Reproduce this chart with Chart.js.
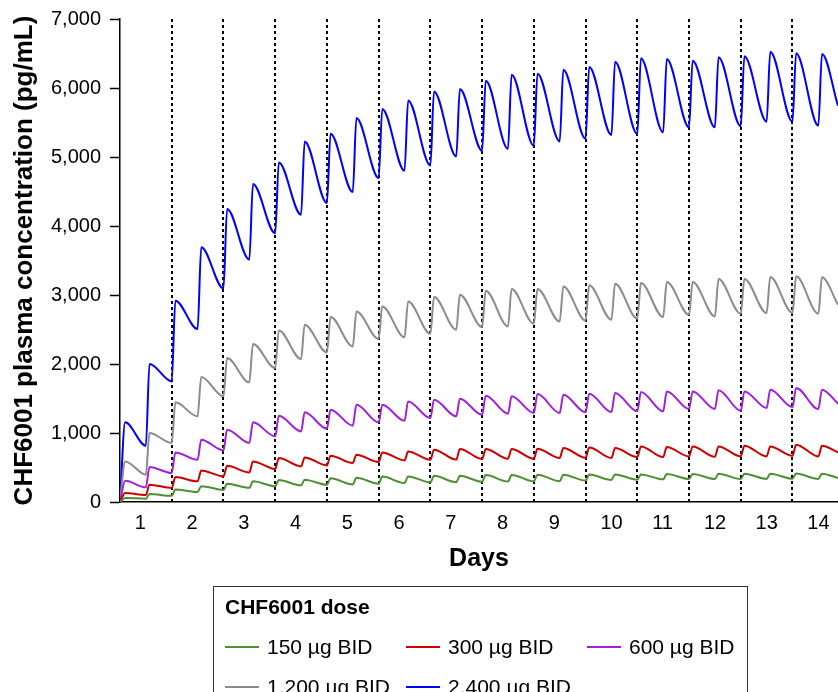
<!DOCTYPE html>
<html>
<head>
<meta charset="utf-8">
<script src="https://cdn.jsdelivr.net/npm/chart.js@4.4.1/dist/chart.umd.min.js"></script>
<style>
  html, body { margin: 0; padding: 0; background: #fff; }
  #wrap { position: relative; width: 838px; height: 692px; overflow: hidden; }
  #wrap canvas { position: absolute; left: 0; top: 0; }
  #legend {
    position: absolute; left: 213px; top: 586px; width: 535px; height: 140px;
    box-sizing: border-box; border: 1.5px solid #333; padding: 8px 0 0 11px;
    font-family: "Liberation Sans", Arial, sans-serif; color: #000;
  }
  #legend .title { font-weight: bold; font-size: 21px; line-height: 24px; }
  #legend .row { display: flex; height: 40px; align-items: center; }
  #legend .row.first { margin-top: 7.5px; }
  #legend .item { display: flex; align-items: center; width: 181px; flex: none; font-size: 21px; white-space: nowrap; }
  #legend .swatch { width: 34px; height: 2px; margin-right: 8px; flex: none; }
</style>
</head>
<body>
<div id="wrap">
  <canvas id="myChart" width="838" height="692"></canvas>
  <div id="legend"></div>
</div>
<script>
// dosing schedule (days) - trough read at each dose, peak shortly after
const doseDays = [0, 0.5, 1, 1.5, 2, 2.5, 3, 3.5, 4, 4.5, 5, 5.5, 6, 6.5,
                  7, 7.5, 8, 8.5, 9, 9.5, 10, 10.5, 11, 11.5, 12, 12.5, 13, 13.5];
const peakDays = [0.1, 0.57, 1.07, 1.57, 2.07, 2.57, 3.07, 3.57, 4.07, 4.57, 5.07, 5.57, 6.07, 6.57,
                  7.07, 7.57, 8.07, 8.57, 9.07, 9.57, 10.07, 10.57, 11.07, 11.57, 12.07, 12.57, 13.07, 13.57];
const endDay = 13.88;

const doseLabels = ['150 µg BID', '300 µg BID', '600 µg BID', '1,200 µg BID', '2,400 µg BID'];
const doseColors = ['#4f8f34', '#cc0000', '#a020e0', '#8c8c8c', '#0000ff'];

// pg/mL
const troughs150 = [0, 48, 90, 145, 175, 205, 228, 241, 251, 255, 265, 275, 284, 286, 294, 296, 299, 301, 310, 320, 323, 328, 333, 333, 333, 335, 338, 335];
const peaks150 = [58, 116, 180, 230, 265, 300, 318, 323, 345, 350, 368, 371, 380, 381, 390, 391, 396, 396, 398, 400, 400, 405, 405, 410, 410, 410, 412, 410];
const end150 = 348;

const troughs300 = [0, 101, 203, 299, 371, 429, 478, 516, 530, 565, 580, 603, 613, 613, 623, 628, 628, 638, 640, 638, 652, 652, 661, 655, 661, 661, 671, 661];
const peaks300 = [130, 251, 362, 458, 526, 588, 638, 645, 671, 686, 719, 733, 758, 768, 768, 768, 773, 782, 790, 782, 806, 796, 806, 806, 816, 806, 830, 816];
const end300 = 719;

const troughs600 = [0, 212, 420, 613, 748, 855, 951, 1023, 1062, 1106, 1154, 1178, 1217, 1241, 1265, 1280, 1290, 1290, 1300, 1304, 1314, 1314, 1348, 1348, 1323, 1362, 1377, 1348];
const peaks600 = [309, 507, 719, 903, 1048, 1154, 1251, 1299, 1338, 1410, 1410, 1458, 1483, 1497, 1541, 1531, 1565, 1555, 1570, 1580, 1594, 1603, 1603, 1618, 1603, 1628, 1652, 1628];
const end600 = 1425;

const troughs1200 = [0, 396, 855, 1241, 1531, 1734, 1942, 2072, 2168, 2255, 2362, 2386, 2439, 2497, 2536, 2545, 2584, 2617, 2630, 2642, 2657, 2681, 2714, 2690, 2729, 2739, 2739, 2729];
const peaks1200 = [588, 1000, 1444, 1812, 2087, 2290, 2487, 2570, 2681, 2762, 2835, 2907, 2971, 3004, 3062, 3087, 3087, 3125, 3140, 3164, 3174, 3188, 3188, 3232, 3232, 3261, 3270, 3256];
const end1200 = 2859;

const troughs2400 = [0, 816, 1748, 2507, 3095, 3512, 3894, 4164, 4333, 4493, 4696, 4801, 4878, 5009, 5091, 5116, 5164, 5226, 5265, 5319, 5333, 5357, 5430, 5430, 5445, 5512, 5512, 5454];
const peaks2400 = [1154, 2000, 2917, 3691, 4246, 4609, 4920, 5226, 5338, 5565, 5696, 5820, 5951, 5986, 6106, 6193, 6207, 6265, 6304, 6381, 6430, 6420, 6396, 6444, 6459, 6526, 6502, 6493];
const end2400 = 5743;

// x ticks: labels at mid-day, dotted dividers at day boundaries
const dayTicks = [0.5, 1, 1.5, 2, 2.5, 3, 3.5, 4, 4.5, 5, 5.5, 6, 6.5, 7, 7.5, 8, 8.5, 9, 9.5,
                  10, 10.5, 11, 11.5, 12, 12.5, 13, 13.5];
const dayLabels = ['1', '2', '3', '4', '5', '6', '7', '8', '9', '10', '11', '12', '13', '14'];
const yTicks = [0, 1000, 2000, 3000, 4000, 5000, 6000, 7000];

const legendTitle = 'CHF6001 dose';

function buildSeries(troughs, peaks, endValue) {
    const pts = [];
    doseDays.forEach((d, i) => {
        pts.push({ x: d, y: troughs[i] });
        pts.push({ x: peakDays[i], y: peaks[i] });
    });
    pts.push({ x: endDay, y: endValue });
    return pts;
}

const seriesData = [
    buildSeries(troughs150, peaks150, end150),
    buildSeries(troughs300, peaks300, end300),
    buildSeries(troughs600, peaks600, end600),
    buildSeries(troughs1200, peaks1200, end1200),
    buildSeries(troughs2400, peaks2400, end2400)
];

// legend is drawn as html so the columns line up like the original
const htmlLegend = {
    id: 'htmlLegend',
    afterUpdate(chart) {
        const box = document.getElementById('legend');
        box.innerHTML = '';
        const title = document.createElement('div');
        title.className = 'title';
        title.textContent = legendTitle;
        box.appendChild(title);
        let row = null;
        chart.data.datasets.forEach((ds, i) => {
            if (i % 3 === 0) {
                row = document.createElement('div');
                row.className = i === 0 ? 'row first' : 'row';
                box.appendChild(row);
            }
            const item = document.createElement('div');
            item.className = 'item';
            const sw = document.createElement('span');
            sw.className = 'swatch';
            sw.style.background = ds.borderColor;
            const txt = document.createElement('span');
            txt.textContent = ds.label;
            item.appendChild(sw);
            item.appendChild(txt);
            row.appendChild(item);
        });
    }
};

Chart.defaults.font.family = '"Liberation Sans", Arial, sans-serif';
Chart.defaults.color = '#000';

const ctx = document.getElementById('myChart').getContext('2d');
const myChart = new Chart(ctx, {
    type: 'line',
    data: {
        datasets: doseLabels.map((label, i) => ({
            label: label,
            data: seriesData[i],
            borderColor: doseColors[i],
            backgroundColor: doseColors[i],
            borderWidth: 2,
            pointRadius: 0,
            cubicInterpolationMode: 'monotone',
            fill: false
        }))
    },
    options: {
        responsive: false,
        animation: false,
        layout: { padding: { top: 19, right: 0, bottom: 110, left: 0 } },
        plugins: {
            legend: { display: false },
            tooltip: { enabled: false }
        },
        scales: {
            x: {
                type: 'linear',
                min: 0,
                max: endDay,
                afterBuildTicks: axis => { axis.ticks = dayTicks.map(v => ({ value: v })); },
                afterFit: axis => { axis.paddingLeft = 0; axis.paddingRight = 0; axis.height = 80; },
                ticks: {
                    autoSkip: false,
                    maxRotation: 0,
                    align: 'start',
                    labelOffset: -11,
                    padding: 9,
                    font: { size: 20 },
                    callback: value => Number.isInteger(value) ? '' : dayLabels[Math.floor(value)]
                },
                grid: {
                    drawTicks: false,
                    lineWidth: 2,
                    color: c => (c.tick && Number.isInteger(c.tick.value)) ? '#000' : 'rgba(0,0,0,0)'
                },
                border: { color: '#000', width: 1.5, dash: [3, 3] },
                title: {
                    display: true,
                    text: 'Days',
                    font: { size: 25, weight: 'bold' },
                    padding: { top: 0, bottom: 8 }
                }
            },
            y: {
                min: 0,
                max: 7000,
                afterBuildTicks: axis => { axis.ticks = yTicks.map(v => ({ value: v })); },
                afterFit: axis => { axis.width = 120; axis.paddingTop = 0; axis.paddingBottom = 0; },
                ticks: {
                    padding: 9,
                    font: { size: 20 },
                    callback: value => value.toLocaleString('en-US')
                },
                grid: {
                    drawOnChartArea: false,
                    drawTicks: true,
                    tickLength: 10,
                    tickColor: '#000',
                    tickWidth: 1.5
                },
                border: { color: '#000', width: 1.5 },
                title: {
                    display: true,
                    text: 'CHF6001 plasma concentration (pg/mL)',
                    font: { size: 26, weight: 'bold' },
                    padding: { top: 9, bottom: 0 }
                }
            }
        }
    },
    plugins: [htmlLegend]
});
</script>
</body>
</html>
